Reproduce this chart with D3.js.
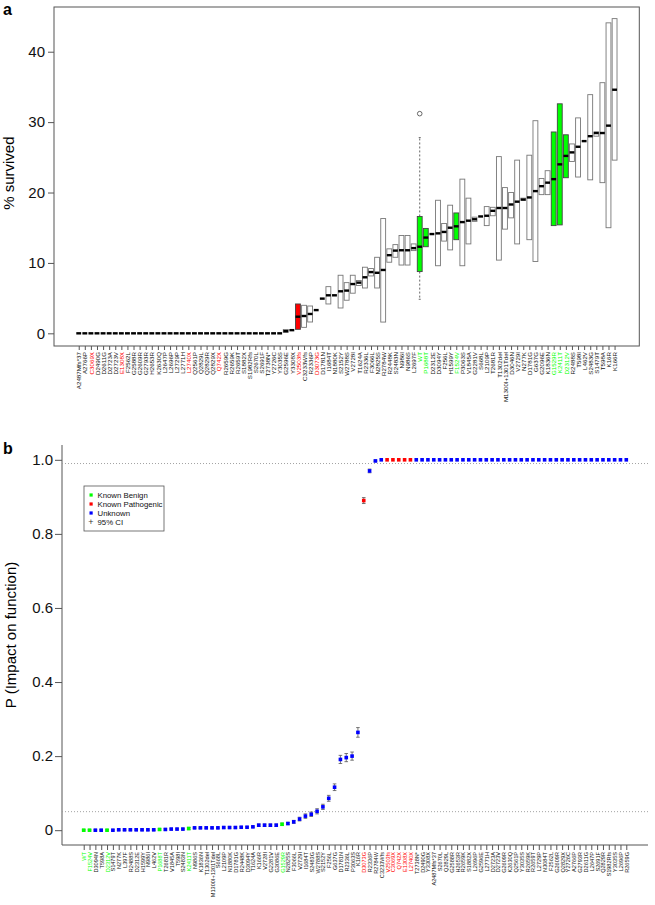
<!DOCTYPE html>
<html><head><meta charset="utf-8">
<script src="https://cdn.jsdelivr.net/npm/d3@7"></script>
<style>body{margin:0;background:#fff} text{font-family:"Liberation Sans",Arial,Helvetica,sans-serif}</style>
</head><body><svg id="c" width="655" height="905" style="background:#fff"></svg>
<script>
// ---------- Panel a data ----------
const variantsA = ["A2487Mfs*37","A2766P","C3069X","D2490G","D2611G","D2723A","D2723V","E1308X","F2562L","G2588R",
"G2609R","G2793R","H2653R","K2630Q","L2647P","L2696P","L2729P","L2771H","L2740X","Q2561P",
"Q2829L","Q2829R","Q2829X","Q742X","R2659G","R2659K","R2659T","S1882X","S1982Rfs","S2670L",
"S2691F","T2738N*","Y2726C","Y3035S","G2596E","Y3308X","V2503fs","C3233Wfs","R2336P","D3073G",
"D1781N","I1684T","N1880K","S2152Y","W2788S","V2728I","T1624A","R2336L","F3066L","N2825S",
"R2784W","R2448K","S2483N","N986I","N986S","L2697F","WT","P1688T","D2312E","D3094Y",
"F256L","H1599Y","F1524V","P3063S","V1845A","G2281V","S668L","L2109P","T2681R","T1302del",
"M1300I+1301Tdel","D3046N","V2729I","N277K","D1781G","G637G","G2096E","K1836N","G1529R","K2411T",
"D2312V","R2488S","T598I","L462V","S2483G","S1479T","T598A","K16R","K166R"];
const statusA = ["U","U","P","U","U","U","U","P","U","U","U","U","U","U","U","U","U","U","P","U",
"U","U","U","P","U","U","U","U","U","U","U","U","U","U","U","U","P","U","U","P",
"U","U","U","U","U","U","U","U","U","U","U","U","U","U","U","U","B","B","U","U",
"U","U","B","U","U","U","U","U","U","U","U","U","U","U","U","U","U","U","B","B",
"B","U","U","U","U","U","U","U","U"];
const q1A = [0,0,0,0,0,0,0,0,0,0, 0,0,0,0,0,0,0,0,0,0, 0,0,0,0,0,0,0,0,0,0, 0,0,0,0,0.15,0.45,0.57,0.85,1.61,3.3,
4.93,4.17,5.4,3.6,4.7,5.7,6.8,6.44,8.15,6.44, 1.6,10.1,10.8,9.7,9.7,11.75,8.77,12.3,14.1,9.6,
13.1,11.85,13.3,9.6,12.7,15.9,16.6,15.3,16.7,10.4, 14.8,16.4,12.7,18.9,13.3,10.2,19.7,19.7,15.3,15.4,
22.1,24.4,22.2,27.3,21.8,28.0,21.4,15.0,24.6];
const medA = [0,0,0,0,0,0,0,0,0,0, 0,0,0,0,0,0,0,0,0,0, 0,0,0,0,0,0,0,0,0,0, 0,0,0,0,0.3,0.45,2.36,2.46,2.75,3.3,
4.93,5.4,5.4,5.97,6.07,7.0,7.2,7.96,8.7,8.6, 9.0,11.1,11.75,11.8,11.8,12.1,12.3,13.6,14.1,14.2,
14.4,15.0,15.2,15.8,16.0,16.2,16.6,16.7,17.4,17.8, 17.8,18.3,18.7,19.0,19.3,20.2,20.9,21.4,21.9,24.0,
25.2,25.7,26.5,27.3,28.0,28.45,28.45,29.5,34.6];
const q3A = [0,0,0,0,0,0,0,0,0,0, 0,0,0,0,0,0,0,0,0,0, 0,0,0,0,0,0,0,0,0,0, 0,0,0,0,0.55,0.45,4.17,3.98,3.88,3.3,
4.93,6.63,5.4,8.25,7.2,8.25,7.5,9.39,9.2,10.8, 16.3,12.0,12.6,13.9,13.9,12.7,16.6,14.9,14.1,18.9,
15.6,18.2,17.1,21.9,19.2,16.5,16.6,18.0,17.9,25.1, 20.7,20.0,24.6,19.2,25.3,30.2,22.0,23.1,28.6,32.6,
28.2,26.9,30.6,27.3,33.9,28.6,35.6,44.1,44.7];
// WT whiskers and outlier
const wtWhiskers = [4.84, 27.8];
const wtOutliers = [31.2];
const yTicksA = [0,10,20,30,40];

// ---------- Panel b data ----------
const variantsB = ["WT","F1524V","D3094N","T598A","D2312V","S1479T","N277K","L397F","R2488S","D2312E",
"H1599Y","N986I","L462V","P1688T","T2681R","V1845A","T598I","S2483N","K2411T","N986S",
"K1836N","T1302del","M1300I+1301Tdel","S668L","L2109P","N1880K","D1781G","R2448K","D3094Y","T1624A",
"K166R","V2728I","G2281V","G3086E","G1529R","N2825S","F3066L","V2729I","I1684T","S2483G",
"W2788S","S2152Y","F256L","G637G","D1781N","R2336L","P3063S","K16R","D3073G","R2336P",
"R2784W","C3233Wfs","V2503fs","C3069X","Q742X","E1308X","L2740X","T2738N*","D2490G","Y3308X",
"A2487Mfs*37","S2670L","Q2829L","G2588R","H2653R","R2659K","S1882X","L2696P","G2596E","L2771H",
"D2723A","D2723V","G2609R","K2630Q","Q2561P","Y3035S","R2659K","R2659T","L2729P","N3084T",
"F2562L","G2609R","Q2829X","Y2726C","A2766P","G2793R","D2611G","L2647P","S2691F","Q2829R",
"S1982Rfs","Y3035S","L2696P","R2659G"];
const statusB = ["B","B","U","U","B","U","U","U","U","U","U","U","U","B","U","U","U","U","B","U",
"U","U","U","U","U","U","U","U","U","U","U","U","U","U","B","U","U","U","U","U",
"U","U","U","U","U","U","U","U","P","U","U","U","P","P","P","P","P","U","U","U",
"U","U","U","U","U","U","U","U","U","U","U","U","U","U","U","U","U","U","U","U",
"U","U","U","U","U","U","U","U","U","U","U","U","U","U"];
const probB = [0,0,0,0,0,0,0.001,0.001,0.001,0.001, 0.001,0.001,0.001,0.002,0.002,0.003,0.003,0.003,0.0045,0.0063,
0.0063,0.0063,0.0063,0.0063,0.0072,0.0072,0.0072,0.008,0.008,0.009, 0.0135,0.0135,0.0135,0.0135,0.016,0.018,0.0225,0.03,0.038,0.043,
0.051,0.063,0.086,0.116,0.191,0.196,0.2,0.264,0.89,0.97, 0.997,1,1,1,1,1,1,1,1,1,
1,1,1,1,1,1,1,1,1,1, 1,1,1,1,1,1,1,1,1,1, 1,1,1,1,1,1,1,1,1,1, 1,1,1,1];
const ciB = [0.002,0.002,0.002,0.002,0.002,0.002,0.002,0.002,0.002,0.002, 0.002,0.002,0.002,0.002,0.002,0.002,0.002,0.002,0.003,0.002,
0.002,0.002,0.002,0.002,0.002,0.002,0.002,0.002,0.002,0.002, 0.003,0.003,0.003,0.003,0.003,0.003,0.004,0.005,0.006,0.006,
0.007,0.007,0.008,0.009,0.011,0.011,0.011,0.013,0.008,0.005, 0.002,0,0,0,0,0,0,0,0,0,
0,0,0,0,0,0,0,0,0,0, 0,0,0,0,0,0,0,0,0,0, 0,0,0,0,0,0,0,0,0,0, 0,0,0,0];
const yTicksB = [0,0.2,0.4,0.6,0.8,1.0];
const refLinesB = [0.05,0.99];
const legendLabels = ["Known Benign","Known Pathogenic","Unknown","95% CI"];

const colors = {B:"#00ff00", P:"#ff0000", U:"#0000ff"};
const frameCol = "#555";
const svg = d3.select("#c");

// ================= Panel a =================
const nA = variantsA.length;
const A = {left:54, right:639.3, top:7, bottom:346};
const xA = d3.scaleLinear().domain([0.5-0.04*nA, nA+0.5+0.04*nA]).range([A.left, A.right]);
const yA = d3.scaleLinear().domain([-1.8, 46.35]).range([A.bottom, A.top]);
const gA = svg.append("g");
gA.append("rect").attr("x",A.left).attr("y",A.top).attr("width",A.right-A.left).attr("height",A.bottom-A.top)
  .attr("fill","none").attr("stroke",frameCol).attr("stroke-width",1);

const yAxA = gA.append("g").attr("transform",`translate(${A.left},0)`)
  .call(d3.axisLeft(yA).tickValues(yTicksA).tickSize(6).tickPadding(3).tickFormat(d3.format("d")));
yAxA.select(".domain").remove();
yAxA.selectAll("line").attr("stroke",frameCol);
yAxA.selectAll("text").attr("font-size",15).attr("fill","#111");

const xAxA = gA.append("g").attr("transform",`translate(0,${A.bottom})`)
  .call(d3.axisBottom(xA).tickValues(d3.range(1,nA+1)).tickSize(4).tickFormat(i=>variantsA[i-1]));
xAxA.select(".domain").remove();
xAxA.selectAll("line").attr("stroke",frameCol);
xAxA.selectAll("text").attr("font-size",6.2).attr("transform","rotate(-90)")
  .attr("x",-6).attr("y",0).attr("dy","0.35em").style("text-anchor","end")
  .attr("fill",(d)=>statusA[d-1]==="B"?colors.B:statusA[d-1]==="P"?colors.P:"#111");

const bw = (xA(2)-xA(1))*0.8;
const boxes = gA.append("g");
d3.range(nA).forEach(i=>{
  const cx = xA(i+1);
  if (i === variantsA.indexOf("WT")) {
    boxes.append("line").attr("x1",cx).attr("x2",cx).attr("y1",yA(q3A[i])).attr("y2",yA(wtWhiskers[1]))
      .attr("stroke","#666").attr("stroke-dasharray","2,2");
    boxes.append("line").attr("x1",cx).attr("x2",cx).attr("y1",yA(q1A[i])).attr("y2",yA(wtWhiskers[0]))
      .attr("stroke","#666").attr("stroke-dasharray","2,2");
    wtWhiskers.forEach(w=>boxes.append("line").attr("x1",cx-1).attr("x2",cx+1).attr("y1",yA(w)).attr("y2",yA(w)).attr("stroke","#666"));
    wtOutliers.forEach(o=>boxes.append("circle").attr("cx",cx).attr("cy",yA(o)).attr("r",2.3).attr("fill","none").attr("stroke","#444").attr("stroke-width",0.8));
  }
  if (q3A[i]-q1A[i] > 0.05) {
    const st = statusA[i];
    boxes.append("rect").attr("x",cx-bw/2).attr("width",bw)
      .attr("y",yA(q3A[i])).attr("height",yA(q1A[i])-yA(q3A[i]))
      .attr("fill", st==="U" ? "#fff" : colors[st])
      .attr("stroke", st==="U" ? "#777" : "#444").attr("stroke-width",0.9);
  }
  boxes.append("line").attr("x1",cx-bw/2).attr("x2",cx+bw/2).attr("y1",yA(medA[i])).attr("y2",yA(medA[i]))
    .attr("stroke","#000").attr("stroke-width",2.4);
});

gA.append("text").attr("x",3).attr("y",15).attr("font-size",16).attr("font-weight","bold").text("a");
gA.append("text").attr("transform",`translate(14,${(yA(0)+A.top)/2+3}) rotate(-90)`)
  .attr("text-anchor","middle").attr("font-size",15).text("% survived");

// ================= Panel b =================
const nB = variantsB.length;
const B = {left:62, right:648, top:445, bottom:845};
const xB = d3.scaleLinear().domain([1-0.04*(nB-1), nB+0.04*(nB-1)]).range([B.left, B.right]);
const yB = d3.scaleLinear().domain([-0.04, 1.04]).range([B.bottom, B.top]);
const gB = svg.append("g");
// L-shaped frame (left and bottom axes)
gB.append("path").attr("d",`M${B.left},${B.top}V${B.bottom}H${B.right}`)
  .attr("fill","none").attr("stroke",frameCol).attr("stroke-width",1);

refLinesB.forEach(r=>gB.append("line").attr("x1",B.left).attr("x2",B.right).attr("y1",yB(r)).attr("y2",yB(r))
  .attr("stroke","#999").attr("stroke-dasharray","1,2").attr("stroke-width",0.9));

const yAxB = gB.append("g").attr("transform",`translate(${B.left},0)`)
  .call(d3.axisLeft(yB).tickValues(yTicksB).tickSize(7).tickPadding(2).tickFormat(d=>d===0?"0":d3.format(".1f")(d)));
yAxB.select(".domain").remove();
yAxB.selectAll("line").attr("stroke",frameCol);
yAxB.selectAll("text").attr("font-size",15).attr("fill","#111");

const xAxB = gB.append("g").attr("transform",`translate(0,${B.bottom})`)
  .call(d3.axisBottom(xB).tickValues(d3.range(1,nB+1)).tickSize(5).tickFormat(i=>variantsB[i-1]));
xAxB.select(".domain").remove();
xAxB.selectAll("line").attr("stroke",frameCol);
xAxB.selectAll("text").attr("font-size",5.6).attr("transform","rotate(-90)")
  .attr("x",-7).attr("y",0).attr("dy","0.35em").style("text-anchor","end")
  .attr("fill",(d)=>statusB[d-1]==="B"?colors.B:statusB[d-1]==="P"?colors.P:"#111");

const pts = gB.append("g");
d3.range(nB).forEach(i=>{
  const cx = xB(i+1);
  if (ciB[i] > 0) {
    const y1 = yB(probB[i]-ciB[i]), y2 = yB(probB[i]+ciB[i]);
    pts.append("line").attr("x1",cx).attr("x2",cx).attr("y1",y1).attr("y2",y2).attr("stroke","#555").attr("stroke-width",0.8);
    [y1,y2].forEach(yy=>pts.append("line").attr("x1",cx-1.8).attr("x2",cx+1.8).attr("y1",yy).attr("y2",yy).attr("stroke","#555").attr("stroke-width",0.8));
  }
  pts.append("rect").attr("x",cx-1.8).attr("y",yB(probB[i])-1.8).attr("width",3.6).attr("height",3.6)
    .attr("fill",colors[statusB[i]]);
});

// legend
const lg = gB.append("g");
lg.append("rect").attr("x",84).attr("y",486).attr("width",80).attr("height",45)
  .attr("fill","#fff").attr("stroke",frameCol).attr("stroke-width",0.8);
const legCols = [colors.B, colors.P, colors.U, null];
legendLabels.forEach((t,k)=>{
  const yy = 495 + k*9;
  if (legCols[k]) lg.append("rect").attr("x",89.5).attr("y",yy-1.6).attr("width",3.2).attr("height",3.2).attr("fill",legCols[k]);
  else { lg.append("text").attr("x",91).attr("y",yy+2.8).attr("font-size",9).attr("text-anchor","middle").attr("fill","#333").text("+"); }
  lg.append("text").attr("x",97.5).attr("y",yy+2.8).attr("font-size",7.8).attr("fill","#111").text(t);
});

gB.append("text").attr("x",3).attr("y",454).attr("font-size",16).attr("font-weight","bold").text("b");
gB.append("text").attr("transform",`translate(16,635) rotate(-90)`)
  .attr("text-anchor","middle").attr("font-size",15).text("P (Impact on function)");
</script></body></html>
